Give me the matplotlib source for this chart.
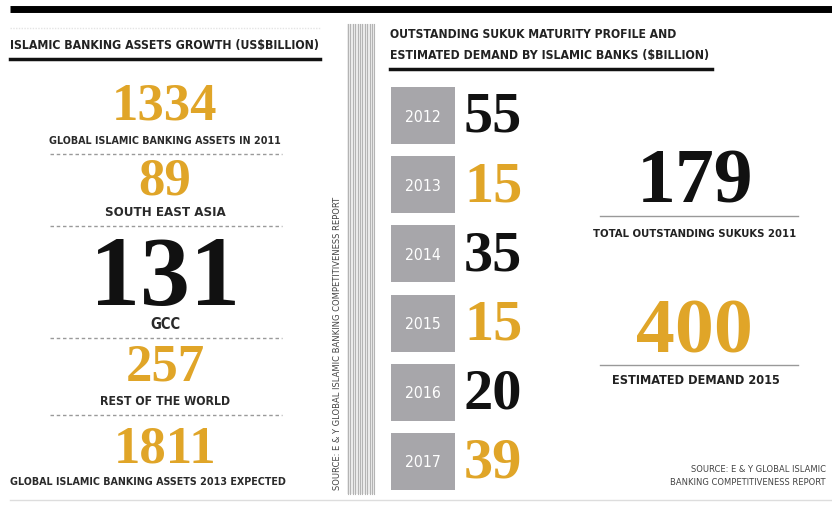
import matplotlib.pyplot as plt
from matplotlib import font_manager
from matplotlib.patches import Rectangle

# left panel: asset figures (US$ billion)
asset_values = ["1334", "89", "131", "257", "1811"]
asset_labels = [
    "GLOBAL ISLAMIC BANKING ASSETS IN 2011",
    "SOUTH EAST ASIA",
    "GCC",
    "REST OF THE WORLD",
    "GLOBAL ISLAMIC BANKING ASSETS 2013 EXPECTED",
]
asset_colors = ["gold", "gold", "black", "gold", "gold"]

# middle panel: sukuk maturity profile ($ billion)
years = ["2012", "2013", "2014", "2015", "2016", "2017"]
maturity = [55, 15, 35, 15, 20, 39]
maturity_colors = ["black", "gold", "black", "gold", "black", "gold"]

# right panel
total_sukuk = 179
demand_2015 = 400

GOLD = "#E0A528"
GREY = "#A7A6AA"
col = {"gold": GOLD, "black": "#111111"}

# pick a narrow sans if one is installed, else Roboto squeezed to width
fonts = font_manager.fontManager.ttflist
cond = dict(family="Roboto")
for f in fonts:
    if "Narrow" in f.name or "Condensed" in f.name:
        cond = dict(family=f.name)
        break
    if f.stretch in ("condensed", "semi-condensed") and "Serif" not in f.name:
        cond = dict(family=f.name, fontstretch=f.stretch)
        break
serif = dict(family="Liberation Serif", weight="bold")

fig = plt.figure(figsize=(8.32, 5.10), dpi=100)
ax = fig.add_axes([0, 0, 1, 1])
ax.set_xlim(0, 832)
ax.set_ylim(510, 0)
ax.axis("off")
renderer = fig.canvas.get_renderer()


def fit_text(x, y, s, width, size, **kw):
    # shrink the font until the text fits the given pixel width
    t = ax.text(x, y, s, fontsize=size, **kw)
    w = t.get_window_extent(renderer=renderer).width
    if w > width:
        t.set_fontsize(size * width / w)
    return t


# frame lines
ax.plot([10, 832], [10, 10], color="black", lw=5, solid_capstyle="butt")
ax.plot([10, 832], [501, 501], color="#dddddd", lw=1)
ax.plot([10, 320], [29, 29], color="#e4e4e4", lw=1, ls=(0, (1, 1)))

# left panel
fit_text(10, 45, "ISLAMIC BANKING ASSETS GROWTH (US$BILLION)", 310, 12,
         weight="bold", color="#222222", va="center", ha="left", **cond)
ax.plot([10, 320], [60, 60], color="#111111", lw=2.5)

num_y = [106, 182, 281, 368, 450]
num_size = [38, 38, 72, 38, 38]
lab_y = [141, 213, 325, 402, 482]
lab_x = [165, 165, 165, 165, 148]
lab_w = [232, 120, 30, 130, 276]
for i, (v, lab) in enumerate(zip(asset_values, asset_labels)):
    ax.text(165, num_y[i], v, fontsize=num_size[i], color=col[asset_colors[i]],
            ha="center", va="center", **serif)
    fit_text(lab_x[i], lab_y[i], lab, lab_w[i], 11, color="#2a2a2a",
             ha="center", va="center", weight="bold", **cond)
    if i < 4:
        ax.plot([50, 282], [lab_y[i] + 14] * 2, color="#9a9a9a", lw=1,
                ls=(0, (2.5, 2)))

# divider with vertical source note
ax.add_patch(Rectangle((347, 25), 28, 470, facecolor="#eeeeee", edgecolor="none"))
for k in range(12):
    x = 348 + k * 2.4
    ax.plot([x, x], [25, 495], color="#b4b4b4", lw=0.8)
ax.text(338, 490, "SOURCE: E & Y GLOBAL ISLAMIC BANKING COMPETITIVENESS REPORT",
        rotation=90, fontsize=6, color="#444444", ha="center", va="bottom",
        family="DejaVu Sans")

# middle panel
fit_text(390, 35, "OUTSTANDING SUKUK MATURITY PROFILE AND", 288, 12,
         weight="bold", color="#222222", va="center", ha="left", **cond)
fit_text(390, 56, "ESTIMATED DEMAND BY ISLAMIC BANKS ($BILLION)", 320, 12,
         weight="bold", color="#222222", va="center", ha="left", **cond)
ax.plot([390, 712], [70, 70], color="#111111", lw=2.5)

for i, (yr, v) in enumerate(zip(years, maturity)):
    top = 88 + i * 69.2
    ax.add_patch(Rectangle((391, top), 64, 57, facecolor=GREY, edgecolor="none"))
    fit_text(423, top + 29, yr, 36, 14, color="white", ha="center",
             va="center", **cond)
    ax.text(464, top + 30, str(v), fontsize=42, color=col[maturity_colors[i]],
            ha="left", va="center", **serif)

# right panel
ax.text(695, 184, str(total_sukuk), fontsize=56, color="#111111", ha="center",
        va="center", **serif)
ax.plot([600, 798], [217, 217], color="#999999", lw=1)
fit_text(695, 234, "TOTAL OUTSTANDING SUKUKS 2011", 205, 12, color="#222222",
         ha="center", va="center", weight="bold", **cond)
ax.text(694, 334, str(demand_2015), fontsize=56, color=GOLD, ha="center",
        va="center", **serif)
ax.plot([600, 798], [366, 366], color="#999999", lw=1)
fit_text(696, 381, "ESTIMATED DEMAND 2015", 168, 12, color="#222222",
         ha="center", va="center", weight="bold", **cond)

ax.text(826, 470, "SOURCE: E & Y GLOBAL ISLAMIC", fontsize=6, color="#444444",
        ha="right", va="center", family="DejaVu Sans")
ax.text(826, 483, "BANKING COMPETITIVENESS REPORT", fontsize=6, color="#444444",
        ha="right", va="center", family="DejaVu Sans")

fig.savefig("out.png", dpi=100)
